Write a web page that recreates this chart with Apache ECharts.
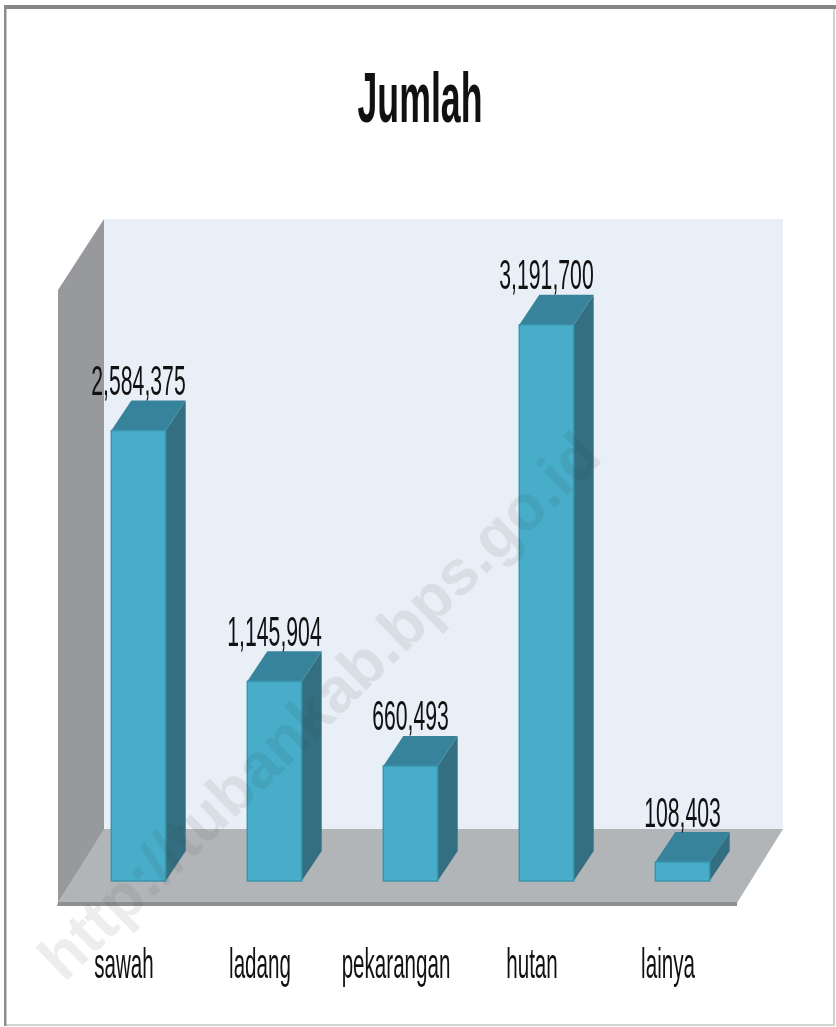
<!DOCTYPE html>
<html>
<head>
<meta charset="utf-8">
<style>
html, body { margin: 0; padding: 0; background: #fff; }
#chart { width: 836px; height: 1027px; }
</style>
<script src="https://cdn.jsdelivr.net/npm/echarts@6/dist/echarts.min.js"></script>
</head>
<body>
<div id="chart"></div>
<script>
let categories = ['sawah', 'ladang', 'pekarangan', 'hutan', 'lainya'];
let jumlah = [2584375, 1145904, 660493, 3191700, 108403];

let myChart = echarts.init(document.getElementById('chart'));
let fontName = '"Liberation Sans", Arial, sans-serif';
let dx = 20, dy = 30; // depth of the fake 3d

function drawBar(params, api) {
    let i = api.value(0);
    let v = api.value(1);
    let top = api.coord([i, v]);
    let base = api.coord([i, 0]);
    let w = api.size([1, 0])[0] * 0.4;
    let x0 = top[0] - w / 2;
    let x1 = top[0] + w / 2;
    return {
        type: 'group',
        children: [
            { type: 'polygon', shape: { points: [[x1, top[1]], [x1 + dx, top[1] - dy], [x1 + dx, base[1] - dy], [x1, base[1]]] },
              style: { fill: '#336f80' } },
            { type: 'polygon', shape: { points: [[x0, top[1]], [x0 + dx, top[1] - dy], [x1 + dx, top[1] - dy], [x1, top[1]]] },
              style: { fill: '#37839b' } },
            { type: 'rect', shape: { x: x0, y: top[1], width: w, height: base[1] - top[1] },
              style: { fill: '#47adc9', stroke: '#3a94ad', lineWidth: 1.5 } },
            { type: 'text', x: top[0], y: top[1] - dy + 4, scaleX: 0.505,
              style: { text: v.toLocaleString('en-US'), fontFamily: fontName, fontSize: 42, fill: '#111',
                       textAlign: 'center', textVerticalAlign: 'bottom' } },
            { type: 'text', x: top[0] - 14.5, y: base[1] + 106, scaleX: 0.49,
              style: { text: categories[i], fontFamily: fontName, fontSize: 42, fill: '#111',
                       textAlign: 'center', textVerticalAlign: 'bottom' } }
        ]
    };
}

myChart.setOption({
    animation: false,
    backgroundColor: '#fff',
    grid: { left: 70.5, width: 680, top: 271, height: 610 },
    xAxis: { type: 'category', data: categories, show: false },
    yAxis: { type: 'value', min: 0, max: 3500000, show: false },
    graphic: [
        // frame
        { type: 'rect', shape: { x: 5, y: 7, width: 829, height: 1018 }, style: { fill: '#fff', stroke: '#c4c4c4', lineWidth: 1.5 } },
        { type: 'rect', shape: { x: 4, y: 5, width: 832, height: 4 }, style: { fill: '#868686' } },
        { type: 'rect', shape: { x: 4, y: 5, width: 2.5, height: 1021 }, style: { fill: '#8c8c8c' } },
        // walls and floor
        { type: 'rect', shape: { x: 104, y: 219, width: 679, height: 611 }, style: { fill: '#e9eff6' } },
        { type: 'polygon', shape: { points: [[58, 290], [104, 219], [104, 830], [58, 903]] }, style: { fill: '#97999d' } },
        { type: 'polygon', shape: { points: [[58, 903], [104, 829], [783, 829], [737, 903]] }, style: { fill: '#b2b5b8' } },
        { type: 'polygon', shape: { points: [[58, 902], [737, 902], [737, 906], [57, 906]] }, style: { fill: '#8d8f91' } },
        // title
        { type: 'text', x: 420, y: 103, scaleX: 0.51, z: 10,
          style: { text: 'Jumlah', fontFamily: fontName, fontWeight: 'bold', fontSize: 70, fill: '#111',
                   textAlign: 'center', textVerticalAlign: 'middle' } },
        // watermark
        { type: 'text', x: 322, y: 709, rotation: 0.77, z: 100, silent: true,
          style: { text: 'http://tubankab.bps.go.id', fontFamily: fontName, fontWeight: 'bold', fontSize: 63,
                   fill: 'rgba(60,60,60,0.09)', textAlign: 'center', textVerticalAlign: 'middle' } }
    ],
    series: [{
        type: 'custom',
        renderItem: drawBar,
        clip: false,
        encode: { x: 0, y: 1 },
        data: jumlah.map((v, i) => [i, v])
    }]
});
</script>
</body>
</html>
